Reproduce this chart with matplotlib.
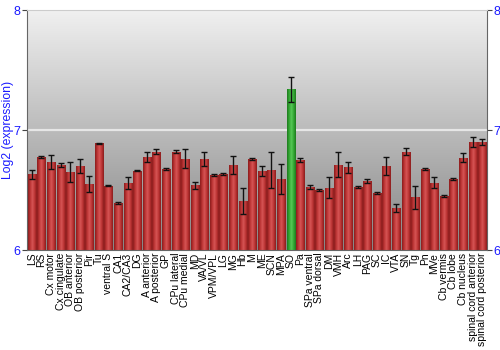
import matplotlib
matplotlib.use("Agg")
import matplotlib.pyplot as plt
import numpy as np

plt.rcParams['font.family'] = ['Liberation Sans', 'DejaVu Sans']

regions = [
    "LS", "RS", "Cx motor", "Cx cingulate", "OB anterior", "OB posterior",
    "Pir", "Tu", "ventral S", "CA1", "CA2/CA3", "DG", "A anterior",
    "A posterior", "GP", "CPu lateral", "CPu medial", "MD", "VA/VL",
    "VPM/VPL", "LG", "MG", "Hb", "M", "ME", "SCN", "MPA", "SO", "Pa",
    "SPa ventral", "SPa dorsal", "DM", "VMH", "Arc", "LH", "PAG", "SC",
    "IC", "VTA", "SN", "Tg", "Pn", "MVe", "Cb vermis", "Cb lobe",
    "Cb nucleus", "spinal cord anterior", "spinal cord posterior",
]
expression = [
    6.63, 6.775, 6.735, 6.71, 6.65, 6.70, 6.55, 6.89, 6.535, 6.39,
    6.56, 6.66, 6.775, 6.82, 6.675, 6.82, 6.76, 6.54, 6.76, 6.625,
    6.635, 6.71, 6.41, 6.76, 6.66, 6.665, 6.59, 7.34, 6.75, 6.525,
    6.50, 6.52, 6.71, 6.69, 6.525, 6.575, 6.475, 6.70, 6.35, 6.82,
    6.44, 6.675, 6.56, 6.45, 6.59, 6.77, 6.90, 6.90,
]
errors = [
    0.04, 0.01, 0.06, 0.015, 0.08, 0.055, 0.07, 0.004, 0.005, 0.01,
    0.05, 0.004, 0.04, 0.02, 0.01, 0.01, 0.08, 0.03, 0.06, 0.01,
    0.006, 0.075, 0.11, 0.006, 0.04, 0.15, 0.125, 0.105, 0.015, 0.015,
    0.01, 0.085, 0.105, 0.045, 0.01, 0.015, 0.01, 0.075, 0.03, 0.03,
    0.095, 0.006, 0.045, 0.01, 0.01, 0.04, 0.04, 0.025,
]
highlight = "SO"

fig = plt.figure(figsize=(5, 3.5), dpi=100)
ax = fig.add_axes([0.054, 0.2857, 0.92, 0.6857])

ymin, ymax = 6, 8
n = len(regions)
x = np.arange(n)
width = 0.84

# background gradient
grad = np.linspace(0, 1, 256).reshape(-1, 1)
ax.imshow(grad, extent=[-0.5, n - 0.5, ymin, ymax], aspect='auto',
          cmap=matplotlib.colors.LinearSegmentedColormap.from_list(
              'bg', ['#868686', '#f0f0f0']),
          origin='lower', zorder=0)

ax.axhline(7, color='#e6e6e6', linewidth=1.6, zorder=1)

red_cmap = matplotlib.colors.LinearSegmentedColormap.from_list(
    'red', ['#8a1c1c', '#bd3535', '#d65555', '#bd3535', '#8a1c1c'])
green_cmap = matplotlib.colors.LinearSegmentedColormap.from_list(
    'green', ['#1e7a1e', '#34a834', '#58c858', '#34a834', '#1e7a1e'])
shade = np.linspace(0, 1, 64).reshape(1, -1)

bars = ax.bar(x, np.array(expression) - ymin, bottom=ymin, width=width,
              color='none', edgecolor='none', zorder=2)
for name, bar in zip(regions, bars):
    cmap = green_cmap if name == highlight else red_cmap
    bx, by = bar.get_x(), bar.get_y()
    im = ax.imshow(shade, extent=[bx, bx + bar.get_width(), by,
                                  by + bar.get_height()],
                   aspect='auto', cmap=cmap, zorder=2)
    im.set_clip_path(bar)

ax.errorbar(x, expression, yerr=errors, fmt='none', ecolor='#111111',
            elinewidth=1.0, capsize=2.2, capthick=1.0, zorder=3)

ax.set_xlim(-0.5, n - 0.5)
ax.set_ylim(ymin, ymax)
ax.set_xticks(x)
ax.set_xticklabels(regions, rotation=90, fontsize=7.5)
ax.tick_params(axis='x', length=0, pad=2)
ax.set_yticks([6, 7, 8])
ax.tick_params(axis='y', which='both', direction='out', length=3.5,
               labelsize=9, labelcolor='#1a1aff', left=True, right=True,
               labelleft=True, labelright=True, color='#444444', pad=1)
ax.set_ylabel('Log2 (expression)', color='#1a1aff', fontsize=8.8)
ax.yaxis.set_label_coords(-0.028, 0.5)

for side in ['left', 'right']:
    ax.spines[side].set_color('#666666')
    ax.spines[side].set_linewidth(0.8)
ax.spines['top'].set_color('#cccccc')
ax.spines['bottom'].set_color('#666666')

fig.savefig('out.png', dpi=100)
